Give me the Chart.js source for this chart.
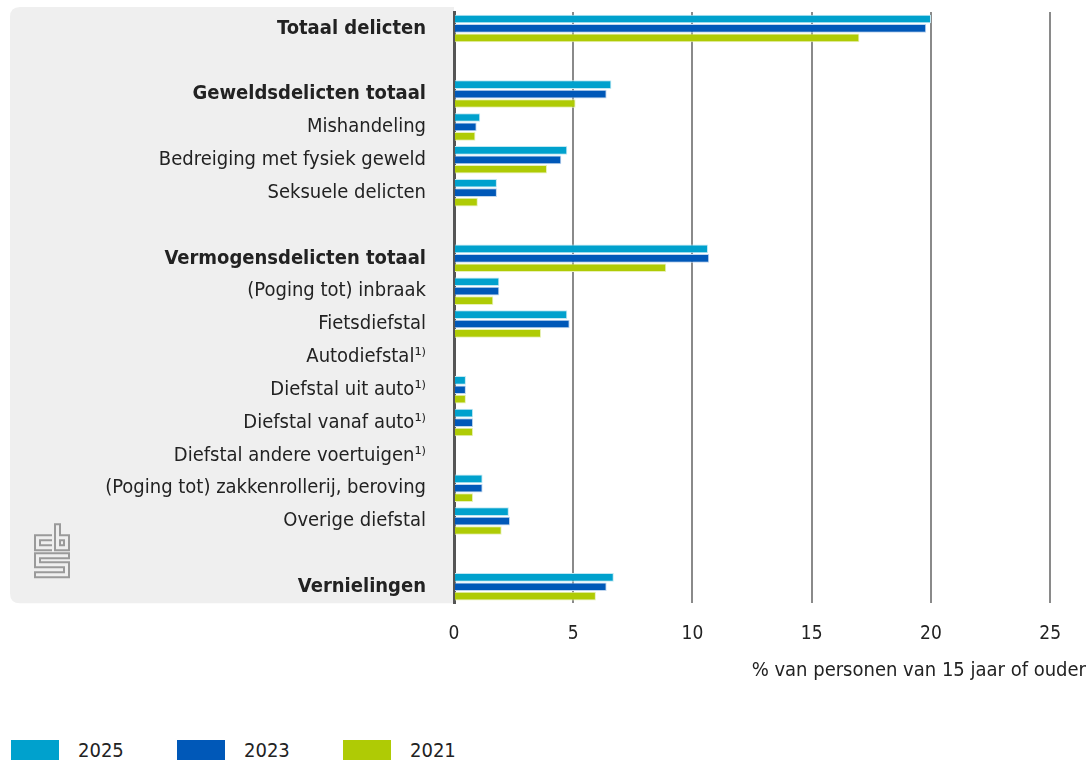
<!DOCTYPE html>
<html>
<head>
<meta charset="utf-8">
<script src="https://cdn.jsdelivr.net/npm/chart.js@4"></script>
<style>
  html, body { margin: 0; padding: 0; background: #fff; }
  #wrap { width: 1091px; height: 716px; position: relative; }
  #legend { position: absolute; left: 11px; top: 740px; display: flex; font-family: "DejaVu Sans Condensed", "DejaVu Sans", sans-serif; font-size: 20px; color: #222; }
  .item { display: flex; align-items: center; width: 166px; height: 20px; }
  .box { width: 48px; height: 20px; margin-right: 19px; }
</style>
</head>
<body>
<div id="wrap"><canvas id="myChart"></canvas></div>
<div id="legend"></div>
<script>
// categories (empty strings are the spacer rows)
const categories = [
  'Totaal delicten', '',
  'Geweldsdelicten totaal', 'Mishandeling', 'Bedreiging met fysiek geweld', 'Seksuele delicten', '',
  'Vermogensdelicten totaal', '(Poging tot) inbraak', 'Fietsdiefstal', 'Autodiefstal¹⁾',
  'Diefstal uit auto¹⁾', 'Diefstal vanaf auto¹⁾', 'Diefstal andere voertuigen¹⁾',
  '(Poging tot) zakkenrollerij, beroving', 'Overige diefstal', '',
  'Vernielingen'
];
const boldRows = [0, 2, 7, 17];

const values2025 = [20.0, null, 6.6, 1.1, 4.75, 1.8, null, 10.65, 1.9, 4.75, null, 0.5, 0.8, null, 1.2, 2.3, null, 6.7];
const values2023 = [19.8, null, 6.4, 0.95, 4.5, 1.8, null, 10.7, 1.9, 4.85, null, 0.5, 0.8, null, 1.2, 2.35, null, 6.4];
const values2021 = [17.0, null, 5.1, 0.9, 3.9, 1.0, null, 8.9, 1.65, 3.65, null, 0.5, 0.8, null, 0.8, 2.0, null, 5.95];

const xTicks = [0, 5, 10, 15, 20, 25];
const xTitle = '% van personen van 15 jaar of ouder';

const fontFamily = '"DejaVu Sans Condensed", "DejaVu Sans", sans-serif';

// grey panel behind the labels + cbs logo
const panelPlugin = {
  id: 'panel',
  beforeDraw(chart) {
    const { ctx, chartArea } = chart;
    const x = 10, y = chartArea.top - 5;
    const w = chartArea.left - x, h = chartArea.bottom - y;
    const r = 10;
    ctx.save();
    ctx.fillStyle = '#efefef';
    ctx.beginPath();
    ctx.moveTo(x + w, y);
    ctx.lineTo(x + r, y);
    ctx.quadraticCurveTo(x, y, x, y + r);
    ctx.lineTo(x, y + h - r);
    ctx.quadraticCurveTo(x, y + h, x + r, y + h);
    ctx.lineTo(x + w, y + h);
    ctx.closePath();
    ctx.fill();

    // rough cbs mark, placed relative to the panel bottom
    const b = chartArea.bottom - 603;
    ctx.translate(0, b);
    ctx.strokeStyle = '#9a9a9a';
    ctx.lineWidth = 2;
    ctx.beginPath();
    // c
    ctx.moveTo(52, 535); ctx.lineTo(35, 535); ctx.lineTo(35, 550); ctx.lineTo(52, 550);
    ctx.moveTo(52, 540); ctx.lineTo(40, 540); ctx.lineTo(40, 545); ctx.lineTo(52, 545);
    // b
    ctx.moveTo(55, 524); ctx.lineTo(55, 550); ctx.lineTo(69, 550); ctx.lineTo(69, 535); ctx.lineTo(60, 535); ctx.lineTo(60, 524); ctx.closePath();
    ctx.moveTo(60, 540); ctx.lineTo(64, 540); ctx.lineTo(64, 545); ctx.lineTo(60, 545); ctx.closePath();
    // s
    ctx.moveTo(69, 553); ctx.lineTo(35, 553); ctx.lineTo(35, 567); ctx.lineTo(64, 567); ctx.lineTo(64, 572); ctx.lineTo(35, 572); ctx.lineTo(35, 577); ctx.lineTo(69, 577); ctx.lineTo(69, 562); ctx.lineTo(40, 562); ctx.lineTo(40, 558); ctx.lineTo(69, 558); ctx.closePath();
    ctx.stroke();
    ctx.restore();
  }
};

const data = {
  labels: categories,
  datasets: [
    { label: '2025', data: values2025, backgroundColor: '#00a1cd', borderColor: '#bfe8f3', borderWidth: 1 },
    { label: '2023', data: values2023, backgroundColor: '#0058b8', borderColor: '#bfd5ee', borderWidth: 1 },
    { label: '2021', data: values2021, backgroundColor: '#afcb05', borderColor: '#e8f1b8', borderWidth: 1 }
  ]
};

const config = {
  type: 'bar',
  data,
  options: {
    indexAxis: 'y',
    responsive: true,
    maintainAspectRatio: false,
    animation: false,
    categoryPercentage: 0.86,
    barPercentage: 0.92,
    layout: { padding: { left: 10, right: 5, top: 8, bottom: 0 } },
    scales: {
      x: {
        min: 0,
        max: 26.5,
        afterBuildTicks(scale) {
          scale.ticks = xTicks.map(v => ({ value: v }));
        },
        ticks: {
          color: '#222',
          padding: 19,
          font: { family: fontFamily, size: 19 }
        },
        grid: { color: '#8a8a8a', lineWidth: 2, drawTicks: false },
        border: { display: false },
        title: {
          display: true,
          text: xTitle,
          align: 'end',
          color: '#222',
          font: { family: fontFamily, size: 20 },
          padding: { top: -5, bottom: 33 }
        }
      },
      y: {
        afterFit(scale) { scale.width = 444; },
        ticks: {
          color: '#222',
          padding: 0,
          font(ctx) {
            return {
              family: fontFamily,
              size: 20,
              weight: boldRows.includes(ctx.index) ? 'bold' : 'normal'
            };
          }
        },
        // invisible tick marks keep the labels off the axis
        grid: { display: true, color: 'transparent', drawOnChartArea: false, drawTicks: true, tickLength: 28 },
        border: { color: '#555', width: 3 }
      }
    },
    plugins: {
      legend: { display: false },
      tooltip: { enabled: false }
    }
  },
  plugins: [panelPlugin]
};

const myChart = new Chart(document.getElementById('myChart'), config);

// legend built from the chart's datasets
const legendEl = document.getElementById('legend');
myChart.data.datasets.forEach(ds => {
  const item = document.createElement('div');
  item.className = 'item';
  const box = document.createElement('span');
  box.className = 'box';
  box.style.background = ds.backgroundColor;
  const txt = document.createElement('span');
  txt.textContent = ds.label;
  item.appendChild(box);
  item.appendChild(txt);
  legendEl.appendChild(item);
});
</script>
</body>
</html>
